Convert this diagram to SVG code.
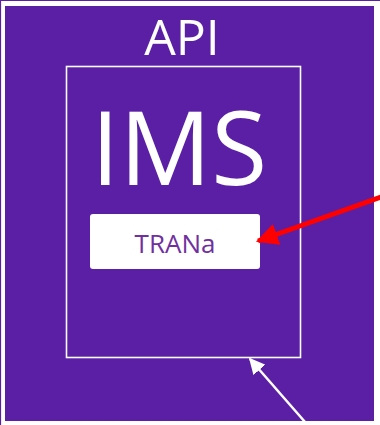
<svg xmlns="http://www.w3.org/2000/svg" width="380" height="425" viewBox="0 0 380 425">
<style>
.lbl{font-family:"Open Sans","Liberation Sans",sans-serif;text-anchor:middle}
</style>
<defs>
<marker id="redHead" viewBox="0 0 10 10" refX="9" refY="5" markerWidth="4.4" markerHeight="4.4" orient="auto" markerUnits="strokeWidth">
<path d="M0,0 L10,5 L0,10 Z" fill="#ff0000"/>
</marker>
<marker id="whiteHead" viewBox="0 0 10 10" refX="9" refY="5" markerWidth="6.4" markerHeight="6.4" orient="auto" markerUnits="strokeWidth">
<path d="M0,0 L10,5 L0,10 Z" fill="#ffffff"/>
</marker>
</defs>
<rect x="0" y="0" width="380" height="425" fill="#ffffff"/>
<path d="M0.5,425 V0.5 H380" fill="none" stroke="#5a1fa4" stroke-width="1.2"/>
<g id="api">
<rect x="5" y="6" width="369" height="415" fill="#5a1fa4"/>
<text class="lbl" x="182" y="55" font-size="50" fill="#ffffff">API</text>
</g>
<g id="ims">
<rect x="66.5" y="66.5" width="234" height="291" fill="none" stroke="#ffffff" stroke-width="1.6"/>
<text class="lbl" x="179" y="185" font-size="102" fill="#ffffff">IMS</text>
</g>
<g id="trana">
<rect x="90" y="214" width="170" height="55" rx="3" fill="#ffffff"/>
<text class="lbl" x="175" y="253" font-size="26" fill="#7030a0">TRANa</text>
</g>
<g id="connectors">
<line x1="384" y1="196" x2="258" y2="241" stroke="#ff0000" stroke-width="5" marker-end="url(#redHead)"/>
<line x1="305" y1="422" x2="250" y2="359" stroke="#ffffff" stroke-width="2.5" marker-end="url(#whiteHead)"/>
</g>
</svg>
